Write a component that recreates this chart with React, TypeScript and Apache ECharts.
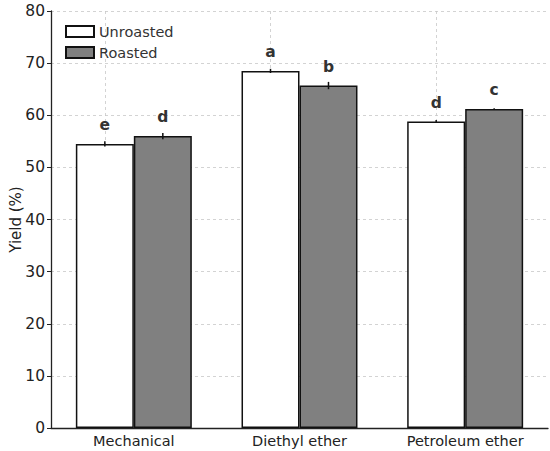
import React, { useEffect, useRef } from "react";
import * as echarts from "echarts";

const categories = ["Mechanical", "Diethyl ether", "Petroleum ether"];
const unroasted = [54.5, 68.5, 58.8];
const roasted = [56.0, 65.7, 61.2];
const unroastedErr = [0.5, 0.4, 0.3];
const roastedErr = [0.6, 0.7, 0.15];
const unroastedLetters = ["e", "a", "d"];
const roastedLetters = ["d", "b", "c"];
const yTicks = { min: 0, max: 80, interval: 10 };

const FONT = "DejaVu Sans";
const BAR_FRAC = 0.35;

function errorSeries(name: string, values: number[], errs: number[], side: number) {
  return {
    type: "custom",
    name: name + "-err",
    silent: true,
    z: 5,
    data: values.map((v, i) => [i, v, errs[i]]),
    renderItem: (params: any, api: any) => {
      const i = api.value(0);
      const v = api.value(1);
      const e = api.value(2);
      const band = api.size([1, 0])[0];
      const bw = band * BAR_FRAC;
      const hi = api.coord([i, v + e]);
      const lo = api.coord([i, v - e]);
      const x = hi[0] + side * bw / 2;
      return {
        type: "line",
        shape: { x1: x, y1: hi[1], x2: x, y2: lo[1] },
        style: { stroke: "#111", lineWidth: 1.5 },
      };
    },
  };
}

export default function App() {
  const ref = useRef<HTMLDivElement>(null);
  useEffect(() => {
    const chart = echarts.init(ref.current!, undefined, { renderer: "svg" });
    chart.setOption({
      animation: false,
      textStyle: { fontFamily: FONT },
      grid: { left: 51, right: 2, top: 11, bottom: 23, outerBoundsMode: "none", containLabel: false },
      legend: {
        left: 60,
        top: 19,
        orient: "vertical",
        icon: "rect",
        itemWidth: 28,
        itemHeight: 11,
        itemGap: 6,
        textStyle: { fontFamily: FONT, fontSize: 14.5, color: "#333" },
        data: ["Unroasted", "Roasted"],
      },
      xAxis: {
        type: "category",
        data: categories,
        axisLine: { lineStyle: { color: "#222", width: 1.3 } },
        axisTick: { show: false },
        axisLabel: { fontFamily: FONT, fontSize: 14.5, color: "#222", margin: 5 },
        splitLine: { show: false },
      },
      yAxis: {
        type: "value",
        min: yTicks.min,
        max: yTicks.max,
        interval: yTicks.interval,
        name: "Yield (%)",
        nameLocation: "middle",
        nameGap: 28,
        nameMoveOverlap: false,
        nameTextStyle: { fontFamily: FONT, fontSize: 15, color: "#222" },
        axisLine: { show: true, lineStyle: { color: "#222", width: 1.3 } },
        axisTick: { show: true, length: 4, lineStyle: { color: "#222" } },
        axisLabel: { fontFamily: FONT, fontSize: 15.5, color: "#222", margin: 6 },
        splitLine: { show: true, lineStyle: { color: "#c8c8c8", type: [3, 3], width: 0.8 } },
      },
      series: [
        {
          type: "bar",
          name: "Unroasted",
          data: unroasted,
          barWidth: BAR_FRAC * 100 + "%",
          barGap: "0%",
          itemStyle: { color: "#ffffff", borderColor: "#111", borderWidth: 1.5 },
          label: {
            show: true,
            position: "top",
            distance: 11,
            fontFamily: FONT,
            fontWeight: "bold",
            fontSize: 15.5,
            color: "#333",
            formatter: (p: any) => unroastedLetters[p.dataIndex],
          },
          markLine: {
            silent: true,
            symbol: "none",
            label: { show: false },
            lineStyle: { color: "#c8c8c8", type: [3, 3], width: 0.8 },
            data: categories.map((c) => ({ xAxis: c })),
            z: 0,
          },
          z: 2,
        },
        {
          type: "bar",
          name: "Roasted",
          data: roasted,
          barWidth: BAR_FRAC * 100 + "%",
          barGap: "0%",
          itemStyle: { color: "#808080", borderColor: "#111", borderWidth: 1.5 },
          label: {
            show: true,
            position: "top",
            distance: 11,
            fontFamily: FONT,
            fontWeight: "bold",
            fontSize: 15.5,
            color: "#333",
            formatter: (p: any) => roastedLetters[p.dataIndex],
          },
          z: 2,
        },
        errorSeries("Unroasted", unroasted, unroastedErr, -1),
        errorSeries("Roasted", roasted, roastedErr, 1),
      ],
    });
    return () => chart.dispose();
  }, []);
  return <div ref={ref} style={{ width: 550, height: 451, position: "absolute", left: 0, top: 0 }} />;
}
